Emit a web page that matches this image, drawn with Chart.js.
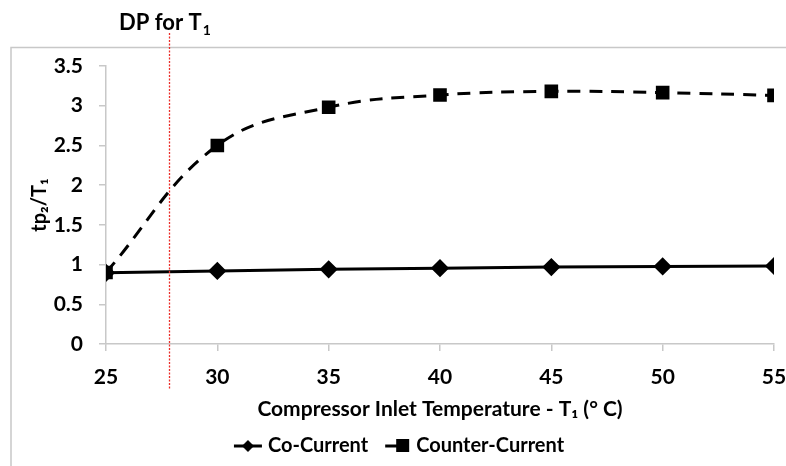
<!DOCTYPE html>
<html>
<head>
<meta charset="utf-8">
<script src="https://cdn.jsdelivr.net/npm/chart.js@4.4.1/dist/chart.umd.min.js"></script>
<style>
html,body{margin:0;padding:0;background:#fff;}
#wrap{width:786px;height:466px;position:relative;}
</style>
</head>
<body>
<div id="wrap"><canvas id="c" width="786" height="466"></canvas></div>
<script>
const temperatures = [25, 30, 35, 40, 45, 50, 55];
const coCurrent = [0.896, 0.92, 0.94, 0.955, 0.968, 0.977, 0.982];
const counterCurrent = [0.9, 2.5, 2.98, 3.135, 3.18, 3.165, 3.13];
const dewPointT1 = 27.85;
const xTicks = [25, 30, 35, 40, 45, 50, 55];
const yTicks = [0, 0.5, 1, 1.5, 2, 2.5, 3, 3.5];

const FONT = "Lato, 'Open Sans', sans-serif";

function legendIcon(kind){
  const cv = document.createElement('canvas');
  cv.width = 30; cv.height = 16;
  const g = cv.getContext('2d');
  g.strokeStyle = '#000'; g.fillStyle = '#000'; g.lineWidth = 3;
  if (kind === 'diamond') {
    g.beginPath(); g.moveTo(1, 8); g.lineTo(29, 8); g.stroke();
    g.beginPath(); g.moveTo(15, 2); g.lineTo(21, 8); g.lineTo(15, 14); g.lineTo(9, 8); g.closePath(); g.fill();
  } else {
    g.beginPath(); g.moveTo(4, 8); g.lineTo(20, 8); g.stroke();
    g.fillRect(15, 1, 13, 13);
  }
  return cv;
}

const overlay = {
  id: 'overlay',
  beforeDraw(chart){
    const ctx = chart.ctx;
    ctx.save();
    ctx.strokeStyle = '#c8c8c8';
    ctx.lineWidth = 1.5;
    ctx.beginPath();
    ctx.moveTo(11, 470); ctx.lineTo(11, 47.5); ctx.lineTo(790, 47.5);
    ctx.stroke();
    ctx.restore();
  },
  afterDatasetsDraw(chart){
    const ctx = chart.ctx;
    const x = Math.round(chart.scales.x.getPixelForValue(dewPointT1)) + 0.5;
    ctx.save();
    ctx.strokeStyle = 'rgb(235, 45, 40)';
    ctx.lineWidth = 1.3;
    ctx.setLineDash([2, 1.5]);
    ctx.beginPath();
    ctx.moveTo(x, 33); ctx.lineTo(x, 390);
    ctx.stroke();
    ctx.setLineDash([]);
    ctx.fillStyle = '#000';
    ctx.font = "bold 22px " + FONT;
    ctx.textBaseline = 'alphabetic';
    ctx.textAlign = 'left';
    const t = 'DP for T';
    ctx.fillText(t, 119, 30);
    const w = ctx.measureText(t).width;
    ctx.font = "bold 14px " + FONT;
    ctx.fillText('1', 119 + w + 1, 35);
    ctx.restore();
  }
};

const tickFont = { family: FONT, size: 21, weight: 'bold' };
const legendFont = { family: FONT, size: 20, weight: 'bold' };

new Chart(document.getElementById('c'), {
  type: 'line',
  data: {
    datasets: [
      {
        label: 'Co-Current',
        data: temperatures.map((t, i) => ({x: t, y: coCurrent[i]})),
        borderColor: '#000', backgroundColor: '#000',
        borderWidth: 3, pointStyle: 'rectRot', pointRadius: 7, pointHoverRadius: 7,
        tension: 0
      },
      {
        label: 'Counter-Current',
        data: temperatures.map((t, i) => ({x: t, y: counterCurrent[i]})),
        borderColor: '#000', backgroundColor: '#000',
        borderWidth: 3, borderDash: [13, 9], pointStyle: 'rect', pointRadius: 7.5, pointHoverRadius: 7.5,
        tension: 0.4, cubicInterpolationMode: 'default'
      }
    ]
  },
  options: {
    responsive: false, animation: false, devicePixelRatio: 1,
    layout: { padding: { left: 28, right: 12, top: 66, bottom: 0 } },
    plugins: {
      tooltip: { enabled: false },
      legend: {
        position: 'bottom',
        labels: {
          usePointStyle: true,
          font: legendFont,
          color: '#000',
          padding: 18,
          generateLabels(chart){
            return [
              { text: 'Co-Current', pointStyle: legendIcon('diamond'), fillStyle: '#000', strokeStyle: '#000', lineWidth: 0, datasetIndex: 0, fontColor: '#000' },
              { text: 'Counter-Current', pointStyle: legendIcon('square'), fillStyle: '#000', strokeStyle: '#000', lineWidth: 0, datasetIndex: 1, fontColor: '#000' }
            ];
          }
        }
      }
    },
    scales: {
      x: {
        type: 'linear', min: 25, max: 55,
        afterBuildTicks(s){ s.ticks = xTicks.map(v => ({value: v})); },
        afterFit(s){ s.height = 74; s.paddingLeft = 0; s.paddingRight = 0; },
        grid: { display: true, drawOnChartArea: false, drawTicks: true, tickLength: 7, color: '#c8c8c8', lineWidth: 1.5 },
        border: { display: true, color: '#c8c8c8', width: 1.5 },
        ticks: { color: '#000', font: tickFont, padding: 14, maxRotation: 0, callback: v => String(v) },
        title: { display: true, text: 'Compressor Inlet Temperature - T₁ (° C)', color: '#000', font: tickFont, padding: { top: 4, bottom: -4 } }
      },
      y: {
        type: 'linear', min: 0, max: 3.5,
        afterBuildTicks(s){ s.ticks = yTicks.map(v => ({value: v})); },
        afterFit(s){ s.width = 78; },
        grid: { display: true, drawOnChartArea: false, drawTicks: true, tickLength: 7, color: '#c8c8c8', lineWidth: 1.5 },
        border: { display: true, color: '#c8c8c8', width: 1.5 },
        ticks: { color: '#000', font: tickFont, padding: 16, callback: v => String(v) },
        title: { display: true, text: 'tp₂/T₁', color: '#000', font: { family: FONT, size: 20, weight: 'bold' }, padding: { top: 0, bottom: 0 } }
      }
    }
  },
  plugins: [overlay]
});
</script>
</body>
</html>
